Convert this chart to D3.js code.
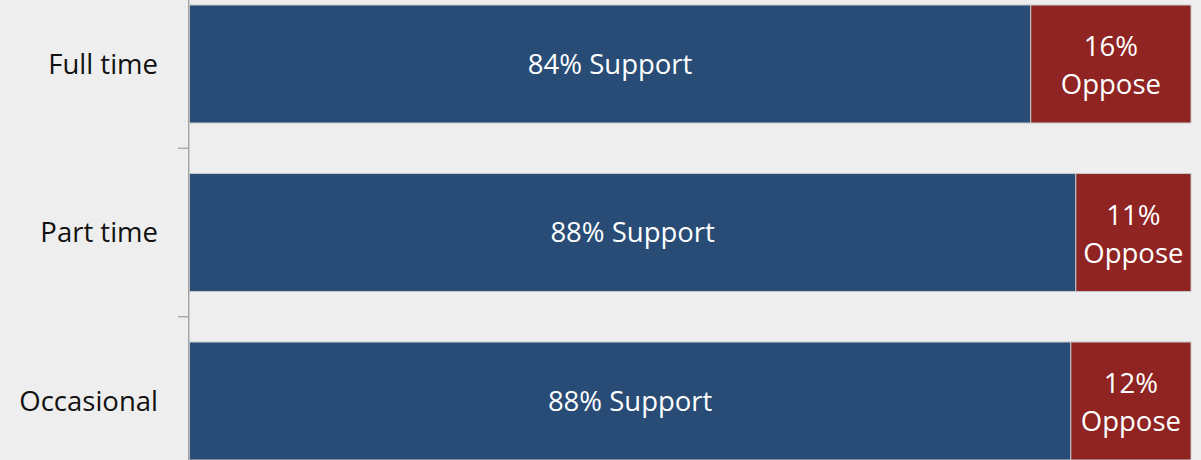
<!DOCTYPE html>
<html lang="en">
<head>
  <meta charset="utf-8" />
  <title>Support vs Oppose by employment type</title>
  <style>
    html,body{margin:0;padding:0;background:#eeeeee;}
    svg{display:block;font-family:"Open Sans","Noto Sans",sans-serif;}
  </style>
</head>
<body>
  <svg id="chart" width="1201" height="460"></svg>

  <script src="https://d3js.org/d3.v7.min.js"></script>
  <script>
    // ————— DATA —————
    const categories   = ['Full time','Part time','Occasional'];
    const supportVals  = [84, 88.5, 88];
    const opposeVals   = [16, 11.5, 12];
    const supportLabels = ['84%','88%','88%'];
    const opposeLabels  = ['16%','11%','12%'];

    // ————— LAYOUT —————
    const W = 1201, H = 460;
    const svg = d3.select('#chart');
    svg.append('rect').attr('width',W).attr('height',H).attr('fill','#eeeeee');

    const x = d3.scaleLinear().domain([0,100]).range([189.5,1191]);
    // plot area runs past the picture edges (cropped chart)
    const y = d3.scaleBand().domain(categories).range([-20.25,485.25])
      .paddingInner(0.3).paddingOuter(0.15);

    const rows = categories.map((c,i)=>({cat:c, sup:supportVals[i], opp:opposeVals[i], sl:supportLabels[i], ol:opposeLabels[i]}));

    // ————— BARS —————
    const g = svg.append('g');
    g.selectAll('rect.sup').data(rows).join('rect').attr('class','sup')
      .attr('x',x(0)).attr('y',d=>y(d.cat))
      .attr('width',d=>x(d.sup)-x(0)).attr('height',y.bandwidth())
      .attr('fill','#284c75').attr('stroke','#c4c7cc').attr('stroke-width',1);
    g.selectAll('rect.opp').data(rows).join('rect').attr('class','opp')
      .attr('x',d=>x(d.sup)).attr('y',d=>y(d.cat))
      .attr('width',d=>x(d.sup+d.opp)-x(d.sup)).attr('height',y.bandwidth())
      .attr('fill','#8f2422').attr('stroke','#c4c7cc').attr('stroke-width',1);

    // ————— LABELS IN BARS —————
    const fs = '27.5px';
    g.selectAll('text.sup').data(rows).join('text').attr('class','sup')
      .attr('x',d=>(x(0)+x(d.sup))/2).attr('y',d=>y(d.cat)+y.bandwidth()/2)
      .attr('dy','0.36em').attr('text-anchor','middle')
      .attr('fill','#fff').style('font-size',fs)
      .text(d=>`${d.sl} Support`);
    const ot = g.selectAll('text.opp').data(rows).join('text').attr('class','opp')
      .attr('text-anchor','middle').attr('fill','#fff').style('font-size',fs);
    ot.append('tspan').attr('x',d=>(x(d.sup)+x(d.sup+d.opp))/2)
      .attr('y',d=>y(d.cat)+y.bandwidth()/2-8).text(d=>d.ol);
    ot.append('tspan').attr('x',d=>(x(d.sup)+x(d.sup+d.opp))/2)
      .attr('y',d=>y(d.cat)+y.bandwidth()/2+30).text('Oppose');

    // ————— Y AXIS —————
    const ax = svg.append('g');
    ax.append('line').attr('x1',188.7).attr('x2',188.7).attr('y1',0).attr('y2',H)
      .attr('stroke','#a3a3a3').attr('stroke-width',1.4);
    const bounds = categories.slice(1).map(c=>y(c)-y.step()*y.paddingInner()/2);
    ax.selectAll('line.tick').data(bounds).join('line').attr('class','tick')
      .attr('x1',178).attr('x2',188).attr('y1',d=>d).attr('y2',d=>d)
      .attr('stroke','#a3a3a3').attr('stroke-width',1.3);
    ax.selectAll('text').data(categories).join('text')
      .attr('x',158).attr('y',d=>y(d)+y.bandwidth()/2).attr('dy','0.36em')
      .attr('text-anchor','end').attr('fill','#111').style('font-size',fs)
      .text(d=>d);
  </script>
</body>
</html>
